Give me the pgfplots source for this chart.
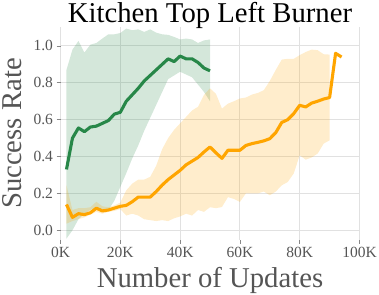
\documentclass[border=0pt]{standalone}
\usepackage{fontspec}
\setmainfont{Liberation Serif}
\usepackage{pgfplots}
\usepackage{pgfplotstable}
\pgfplotsset{compat=1.18}
\usepgfplotslibrary{fillbetween}
\definecolor{cgreen}{RGB}{39,135,72}
\definecolor{corange}{RGB}{255,165,0}
\definecolor{labgray}{RGB}{85,85,85}
\definecolor{gridgray}{RGB}{225,225,225}

% x in K updates, mean, lower, upper
\pgfplotstableread{
x m lo hi
2 0.33 -0.045 0.87
4 0.50 0.00 0.98
6 0.555 0.06 1.027
8 0.535 0.09 0.964
10 0.56 0.11 1.007
12 0.565 0.125 1.016
14 0.58 0.11 1.04
16 0.595 0.11 1.063
18 0.63 0.16 1.063
20 0.64 0.235 1.07
22 0.70 0.31 1.094
24 0.735 0.39 1.085
26 0.77 0.46 1.09
28 0.81 0.54 1.076
30 0.84 0.61 1.09
32 0.87 0.68 1.072
34 0.90 0.75 1.063
36 0.93 0.82 1.06
38 0.915 0.84 1.049
40 0.945 0.86 1.035
42 0.93 0.845 1.04
44 0.93 0.83 1.035
46 0.91 0.79 1.016
48 0.88 0.75 1.03
50 0.865 0.70 1.035
}\greendata

\pgfplotstableread{
x m lo hi
2 0.14 0.036 0.244
4 0.07 0.05 0.11
6 0.09 0.06 0.12
8 0.085 0.07 0.12
10 0.095 0.085 0.125
12 0.12 0.10 0.155
14 0.105 0.09 0.13
16 0.11 0.10 0.125
18 0.12 0.105 0.135
20 0.13 0.115 0.15
22 0.135 0.08 0.217
24 0.155 0.09 0.253
26 0.18 0.08 0.275
28 0.18 0.06 0.275
30 0.18 0.055 0.29
32 0.21 0.05 0.35
34 0.245 0.055 0.44
36 0.275 0.05 0.50
38 0.30 0.065 0.545
40 0.325 0.075 0.58
42 0.355 0.09 0.615
44 0.375 0.08 0.65
46 0.395 0.11 0.67
48 0.425 0.10 0.735
50 0.452 0.125 0.77
52 0.42 0.12 0.74
54 0.39 0.126 0.66
56 0.434 0.18 0.687
58 0.434 0.17 0.70
60 0.434 0.154 0.715
62 0.46 0.20 0.72
64 0.47 0.20 0.736
66 0.477 0.20 0.745
68 0.485 0.21 0.76
70 0.497 0.19 0.81
72 0.53 0.21 0.87
74 0.585 0.244 0.926
76 0.60 0.262 0.93
78 0.633 0.308 0.93
80 0.678 0.407 0.95
82 0.669 0.383 0.967
84 0.69 0.395 0.98
86 0.70 0.416 0.977
88 0.712 0.47 0.955
90 0.72 0.488 0.953
}\orangeband

\pgfplotstableread{
x m
2 0.14
4 0.07
6 0.09
8 0.085
10 0.095
12 0.12
14 0.105
16 0.11
18 0.12
20 0.13
22 0.135
24 0.155
26 0.18
28 0.18
30 0.18
32 0.21
34 0.245
36 0.275
38 0.30
40 0.325
42 0.355
44 0.375
46 0.395
48 0.425
50 0.452
52 0.42
54 0.39
56 0.434
58 0.434
60 0.434
62 0.46
64 0.47
66 0.477
68 0.485
70 0.497
72 0.53
74 0.585
76 0.60
78 0.633
80 0.678
82 0.669
84 0.69
86 0.70
88 0.712
90 0.72
92 0.96
94 0.94
}\orangeline

\begin{document}
\begin{tikzpicture}
\begin{axis}[
  scale only axis,
  width=299pt, height=212pt,
  xmin=0, xmax=100, ymin=-0.05, ymax=1.1,
  axis line style={draw=none},
  grid=major,
  grid style={gridgray, line width=0.9pt},
  xtick={0,20,40,60,80,100},
  xticklabels={0K,20K,40K,60K,80K,100K},
  ytick={0,0.2,0.4,0.6,0.8,1.0},
  yticklabels={0.0,0.2,0.4,0.6,0.8,1.0},
  xtick pos=lower, ytick pos=left,
  tick align=outside,
  major tick length=4pt,
  tick style={labgray!70, line width=0.8pt},
  ticklabel style={font=\fontsize{15.5}{16}\selectfont, text=labgray},
  title={Kitchen Top Left Burner},
  title style={font=\fontsize{28.7}{30}\selectfont, text=black, at={(axis description cs:0.5,1)}, anchor=base, yshift=-1.5pt},
  xlabel={Number of Updates},
  xlabel style={font=\fontsize{28.7}{30}\selectfont, text=labgray, at={(axis description cs:0.5,0)}, anchor=base, yshift=-48pt},
  ylabel={Success Rate},
  ylabel style={font=\fontsize{28.7}{30}\selectfont, text=labgray, at={(axis description cs:-0.1321,0.5)}, anchor=base},
]
\addplot[draw=none, name path=glo, forget plot] table[x=x, y=lo] {\greendata};
\addplot[draw=none, name path=ghi, forget plot] table[x=x, y=hi] {\greendata};
\addplot[cgreen, fill opacity=0.2, draw=none, forget plot] fill between[of=glo and ghi];
\addplot[draw=none, name path=olo, forget plot] table[x=x, y=lo] {\orangeband};
\addplot[draw=none, name path=ohi, forget plot] table[x=x, y=hi] {\orangeband};
\addplot[corange, fill opacity=0.2, draw=none, forget plot] fill between[of=olo and ohi];
\addplot[cgreen, line width=3.1pt, line join=round] table[x=x, y=m] {\greendata};
\addplot[corange, line width=3.1pt, line join=round] table[x=x, y=m] {\orangeline};
\end{axis}
\pgfresetboundingbox
\useasboundingbox (-60.5pt,-54.5pt) rectangle (318.5pt,239.5pt);
\end{tikzpicture}
\end{document}
